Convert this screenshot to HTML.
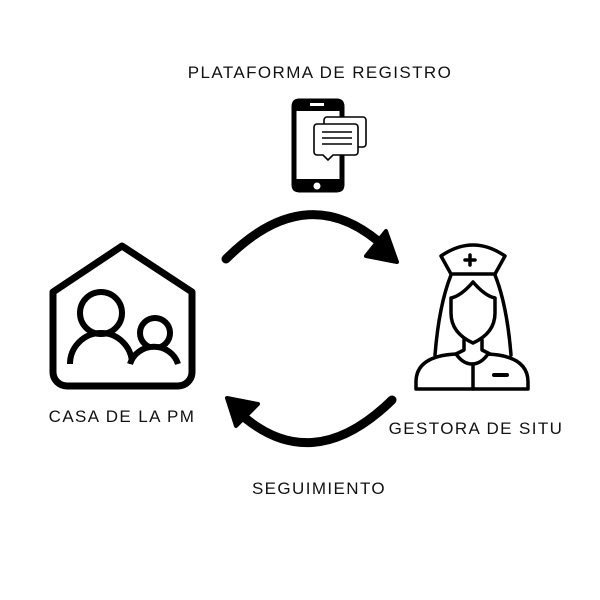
<!DOCTYPE html>
<html><head><style>
body{margin:0;background:#fff;width:600px;height:600px;overflow:hidden}
svg{display:block}
text{font-family:"Liberation Sans",sans-serif;font-size:17px;fill:#111;letter-spacing:1.4px}
</style></head><body>
<svg width="600" height="600" viewBox="0 0 600 600">
<text x="320" y="78" text-anchor="middle">PLATAFORMA DE REGISTRO</text>
<text x="122" y="422" text-anchor="middle">CASA DE LA PM</text>
<text x="476" y="434" text-anchor="middle">GESTORA DE SITU</text>
<text x="319" y="494" text-anchor="middle">SEGUIMIENTO</text>
<!-- phone -->
<rect x="294" y="101" width="48" height="89" rx="5" fill="none" stroke="#000" stroke-width="5"/>
<rect x="292" y="99" width="52" height="12" rx="5" fill="#000"/>
<rect x="292" y="179" width="52" height="13" rx="5" fill="#000"/>
<rect x="310" y="103" width="14" height="3" fill="#fff"/>
<circle cx="317" cy="186" r="3.5" fill="#fff"/>
<rect x="324" y="117" width="42" height="30" rx="3" fill="#fff" stroke="#000" stroke-width="1.6"/>
<path d="M317,124 h38 a3,3 0 0 1 3,3 v25 a3,3 0 0 1 -3,3 h-22 l-5,5 l-5,-5 h-6 a3,3 0 0 1 -3,-3 v-25 a3,3 0 0 1 3,-3z" fill="#fff" stroke="#000" stroke-width="1.6"/>
<path d="M322,132h30M322,138h30M322,144h30" stroke="#000" stroke-width="1.6"/>
<!-- house -->
<path d="M53,292 L122,246 L192,292 V372 a14,14 0 0 1 -14,14 H67 a14,14 0 0 1 -14,-14 Z" fill="none" stroke="#000" stroke-width="7" stroke-linejoin="round"/>
<circle cx="101" cy="313" r="21" fill="none" stroke="#000" stroke-width="6"/>
<path d="M70,364 a31,31 0 0 1 62,0" fill="none" stroke="#000" stroke-width="6"/>
<circle cx="155" cy="333" r="15" fill="#fff" stroke="#000" stroke-width="6"/>
<path d="M130,364 a25,24 0 0 1 48,0" fill="#fff" stroke="#000" stroke-width="6"/>
<!-- nurse -->
<g fill="none" stroke="#000" stroke-width="3.5" stroke-linejoin="round" stroke-linecap="round">
<path d="M441,256 q32,-22 64,0 l-10,18 h-44 z"/>
<path d="M470,255v10M465,260h10" stroke-width="3.5"/>
<path d="M451,275 q-12,30 -16,80 M495,275 q12,30 16,80"/>
<path d="M473,282 q-12,14 -22,16 v15 q0,20 22,30 q22,-10 22,-30 v-15 q-10,-2 -22,-16z"/>
<path d="M464,340 v10 l-8,4 M482,340 v10 l8,4"/>
<path d="M456,354 q-40,2 -40,28 v7 h112 v-7 q0,-26 -40,-28 q-7,10 -16,10 q-9,0 -16,-10z"/>
<path d="M473,364 v25"/>
<path d="M494,375 h13" stroke-width="4"/>
</g>
<!-- arrows -->
<path d="M226,259 Q310,175 388,250" fill="none" stroke="#000" stroke-width="9" stroke-linecap="round"/>
<path d="M397,262 L366,256 L386,231 Z" fill="#000" stroke="#000" stroke-width="4" stroke-linejoin="round"/>
<path d="M392,400 Q310,480 236,410" fill="none" stroke="#000" stroke-width="9" stroke-linecap="round"/>
<path d="M227,398 L258,404 L236,426 Z" fill="#000" stroke="#000" stroke-width="4" stroke-linejoin="round"/>
</svg>
</body></html>
